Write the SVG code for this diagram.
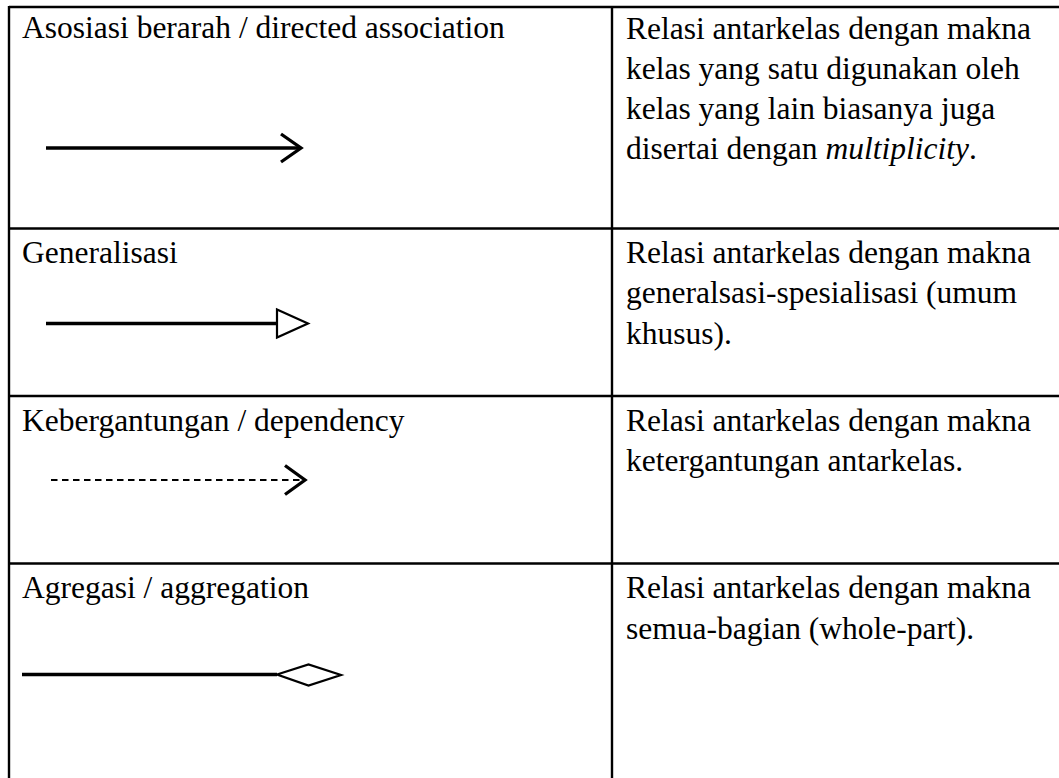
<svg xmlns="http://www.w3.org/2000/svg" width="1059" height="778" viewBox="0 0 1059 778">
  <style>
    .grid { stroke: #000; stroke-width: 2.4; fill: none; }
    .txt { font-family: "Liberation Serif", "Times New Roman", serif; font-size: 31.5px; fill: #000; }
    .it { font-style: italic; }
    .line { stroke: #000; stroke-width: 3.3; fill: none; }
    .dash { stroke: #000; stroke-width: 2.1; stroke-dasharray: 6.5 4.5; fill: none; }
    .head { stroke: #000; stroke-width: 3.3; fill: none; stroke-linejoin: miter; }
    .hollow { stroke: #000; stroke-width: 2.2; fill: #fff; }
  </style>

  <rect width="1059" height="778" fill="#fff"/>

  <!-- table rules -->
  <g id="table">
    <line class="grid" x1="9" y1="7" x2="1059" y2="7"/>
    <line class="grid" x1="9" y1="228.5" x2="1059" y2="228.5"/>
    <line class="grid" x1="9" y1="396" x2="1059" y2="396"/>
    <line class="grid" x1="9" y1="563.5" x2="1059" y2="563.5"/>
    <line class="grid" x1="9" y1="6" x2="9" y2="778"/>
    <line class="grid" x1="612" y1="6" x2="612" y2="778"/>
  </g>

  <!-- row 1: directed association -->
  <g id="row-association">
    <text class="txt" x="22" y="38">Asosiasi berarah / directed association</text>
    <text class="txt" x="626" y="38.5">Relasi antarkelas dengan makna</text>
    <text class="txt" x="626" y="78.5">kelas yang satu digunakan oleh</text>
    <text class="txt" x="626" y="118.5">kelas yang lain biasanya juga</text>
    <text class="txt" x="626" y="158.5">disertai dengan <tspan class="it">multiplicity</tspan>.</text>
  </g>

  <!-- row 2: generalization -->
  <g id="row-generalization">
    <text class="txt" x="22" y="263">Generalisasi</text>
    <text class="txt" x="626" y="263">Relasi antarkelas dengan makna</text>
    <text class="txt" x="626" y="303">generalsasi-spesialisasi (umum</text>
    <text class="txt" x="626" y="343.5">khusus).</text>
  </g>

  <!-- row 3: dependency -->
  <g id="row-dependency">
    <text class="txt" x="22" y="430.5">Kebergantungan / dependency</text>
    <text class="txt" x="626" y="430.5">Relasi antarkelas dengan makna</text>
    <text class="txt" x="626" y="471">ketergantungan antarkelas.</text>
  </g>

  <!-- row 4: aggregation -->
  <g id="row-aggregation">
    <text class="txt" x="22" y="598">Agregasi / aggregation</text>
    <text class="txt" x="626" y="598">Relasi antarkelas dengan makna</text>
    <text class="txt" x="626" y="638.5">semua-bagian (whole-part).</text>
  </g>

  <!-- relationship symbols -->
  <g id="connectors">
    <line class="line" x1="46" y1="148" x2="300" y2="148"/>
    <polyline class="head" points="281,134 301,148 281,162"/>

    <line class="line" x1="46" y1="323.5" x2="277" y2="323.5"/>
    <polygon class="hollow" points="277,309.5 308,323.5 277,337.5"/>

    <line class="dash" x1="51" y1="480" x2="303" y2="480"/>
    <polyline class="head" points="285,465.5 305,480 285,494.5"/>

    <line class="line" x1="22" y1="674.5" x2="277" y2="674.5"/>
    <polygon class="hollow" points="277,674.5 308.5,664.5 341,675 308.5,685.5"/>
  </g>
</svg>
